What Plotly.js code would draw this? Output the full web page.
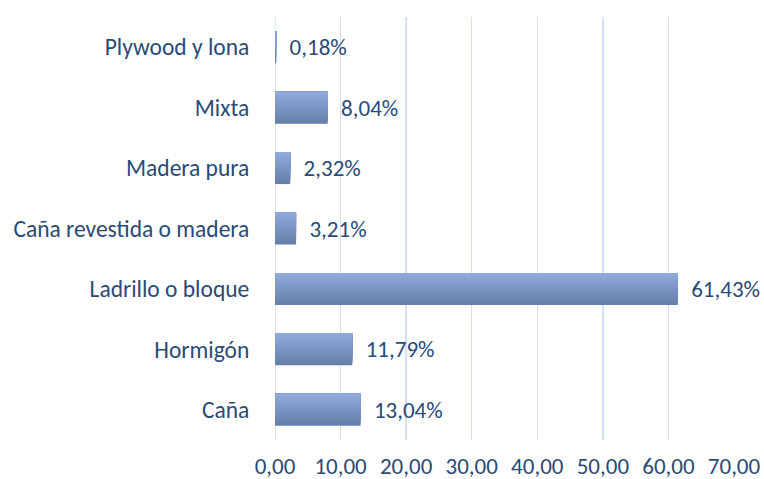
<!DOCTYPE html>
<html>
<head>
<meta charset="utf-8">
<script src="https://cdn.plot.ly/plotly-3.0.1.min.js"></script>
<style>html,body{margin:0;padding:0;background:#fff;}#chart{width:764px;height:479px;}</style>
</head>
<body>
<div id="chart"></div>
<script>
const categories = ["Caña", "Hormigón", "Ladrillo o bloque", "Caña revestida o madera", "Madera pura", "Mixta", "Plywood y lona"];
const values = [13.04, 11.79, 61.43, 3.21, 2.32, 8.04, 0.18];
const tickValues = [0, 10, 20, 30, 40, 50, 60, 70];

const textColor = "#2b4a76";
const fontFam = "Carlito, Lato, 'Open Sans', sans-serif";

// gradient fill: nested copies of the same bars, each starting higher and lighter
const barWidth = 0.53;
const strips = 16;
const topRGB = [143, 170, 219];
const botRGB = [102, 127, 171];
const traces = [];
for (let i = 0; i < strips; i++) {
  const t = i / (strips - 1); // 0 bottom -> 1 top
  const c = botRGB.map((b, k) => Math.round(b + (topRGB[k] - b) * t));
  const step = barWidth / strips;
  traces.push({
    type: "bar",
    orientation: "h",
    y: categories,
    x: values,
    width: barWidth - i * step,
    offset: -barWidth / 2 + i * step,
    marker: { color: `rgb(${c[0]},${c[1]},${c[2]})`, line: { width: 0 } },
    hoverinfo: "none"
  });
}
traces.push({
  type: "bar",
  orientation: "h",
  y: categories,
  x: values,
  width: barWidth,
  marker: { color: "rgba(0,0,0,0)", line: { width: 0 } },
  texttemplate: "  %{x:.2f}%",
  textposition: "outside",
  cliponaxis: false,
  textfont: { family: fontFam, size: 23, color: textColor },
  hoverinfo: "none"
});

const layout = {
  width: 764,
  height: 479,
  margin: { l: 275, r: 30, t: 17, b: 39 },
  paper_bgcolor: "#ffffff",
  plot_bgcolor: "#ffffff",
  separators: ",.",
  showlegend: false,
  barmode: "overlay",
  font: { family: fontFam, size: 23, color: textColor },
  xaxis: {
    range: [0, 70],
    tickvals: tickValues,
    tickformat: ".2f",
    showgrid: true,
    gridcolor: "#d5e1f2",
    gridwidth: 1.5,
    zeroline: false,
    showline: false,
    ticks: "outside",
    ticklen: 5,
    tickcolor: "rgba(0,0,0,0)",
    tickfont: { family: fontFam, size: 23, color: textColor },
    fixedrange: true
  },
  yaxis: {
    type: "category",
    categoryorder: "array",
    categoryarray: categories,
    showgrid: false,
    zeroline: false,
    showline: false,
    ticks: "outside",
    ticklen: 20,
    tickcolor: "rgba(0,0,0,0)",
    tickfont: { family: fontFam, size: 23.5, color: textColor },
    fixedrange: true
  },
  shapes: [{
    type: "line", xref: "x", yref: "paper", x0: 0, x1: 0, y0: 0, y1: 1,
    line: { color: "#d5e1f2", width: 1.5 }, layer: "below"
  }]
};

Plotly.newPlot("chart", traces, layout, { displayModeBar: false, staticPlot: true });
</script>
</body>
</html>
